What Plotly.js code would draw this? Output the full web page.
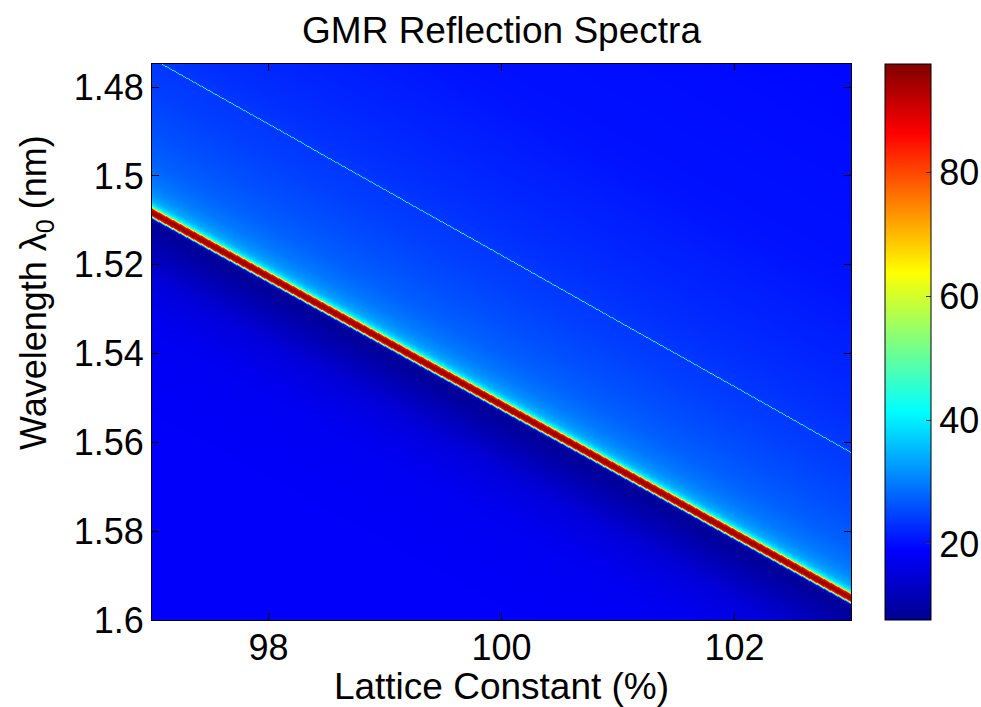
<!DOCTYPE html>
<html>
<head>
<meta charset="utf-8">
<script src="https://cdn.plot.ly/plotly-3.0.1.min.js"></script>
<style>html,body{margin:0;padding:0;background:#fff;}#chart{width:981px;height:707px;}</style>
</head>
<body>
<div id="chart"></div>
<script>
// Lattice constant (%) sample points read along the x axis
const latticeConstant = [97, 98, 99, 100, 101, 102, 103];
// Centre wavelength of the strong GMR resonance at each lattice constant
const mainResonance = [1.5084, 1.5228, 1.5372, 1.5516, 1.5660, 1.5805, 1.5950];
// Centre wavelength of the weak (narrow) resonance at each lattice constant
const secondResonance = [1.4737, 1.4884, 1.5032, 1.5179, 1.5327, 1.5474, 1.5622];
// Cross-section of the strong resonance: wavelength offset from its centre -> reflection (%)
const mainProfileOffset = [-0.12, -0.07, -0.045, -0.027, -0.018, -0.0113, -0.0068, -0.0045, -0.0029, -0.002, -0.0016, -0.0013, -0.0011, -0.0009, -0.0007, -0.0003, 0, 0.0003, 0.0006, 0.0008, 0.001, 0.0012, 0.0014, 0.0016, 0.00225, 0.0045, 0.009, 0.0156, 0.025, 0.045, 0.09];
const mainProfileValue  = [19.5, 20.5, 22.5, 24.5, 26, 27.5, 29.5, 31.5, 34, 38, 42, 50, 66, 82, 90, 95, 96, 94, 88, 75, 52, 32, 17, 10.5, 8.5, 9.5, 12, 15.5, 17.5, 18.5, 18.5];
// Cross-section of the weak resonance: offset -> added reflection (%)
const secondProfileOffset = [-0.00016, -0.00006, 0, 0.00006, 0.00016];
const secondProfileBoost  = [0, 15, 24, 15, 0];
// Axis ticks
const xTicks = [98, 100, 102];
const yTicks = [1.48, 1.5, 1.52, 1.54, 1.56, 1.58, 1.6];
const yTickText = ['1.48', '1.5', '1.52', '1.54', '1.56', '1.58', '1.6'];
const cbTicks = [20, 40, 60, 80];

function interp(xs, ys, v) {
  if (v <= xs[0]) return ys[0];
  const n = xs.length;
  if (v >= xs[n - 1]) return ys[n - 1];
  let i = 1;
  while (xs[i] < v) i++;
  const t = (v - xs[i - 1]) / (xs[i] - xs[i - 1]);
  return ys[i - 1] + t * (ys[i] - ys[i - 1]);
}

// Build the grid the heatmap needs from the read values
const xMin = latticeConstant[0], xMax = latticeConstant[latticeConstant.length - 1];
const yTop = 1.4748, yBottom = 1.6;
const nx = 601, ny = 558;
const gx = [], gy = [];
for (let i = 0; i < nx; i++) gx.push(xMin + (xMax - xMin) * i / (nx - 1));
for (let j = 0; j < ny; j++) gy.push(yTop + (yBottom - yTop) * j / (ny - 1));
const z = [];
for (let j = 0; j < ny; j++) {
  const row = new Array(nx);
  for (let i = 0; i < nx; i++) {
    const lm = interp(latticeConstant, mainResonance, gx[i]);
    const ls = interp(latticeConstant, secondResonance, gx[i]);
    row[i] = interp(mainProfileOffset, mainProfileValue, gy[j] - lm) +
             interp(secondProfileOffset, secondProfileBoost, gy[j] - ls);
  }
  z.push(row);
}

const jet = [
  [0, 'rgb(0,0,143)'], [0.125, 'rgb(0,0,255)'], [0.375, 'rgb(0,255,255)'],
  [0.625, 'rgb(255,255,0)'], [0.875, 'rgb(255,0,0)'], [1, 'rgb(128,0,0)']
];
const FONT = 'Liberation Sans, Arial, Helvetica, sans-serif';

const trace = {
  type: 'heatmap', x: gx, y: gy, z: z,
  colorscale: jet, zmin: 7.7, zmax: 97.6, zsmooth: false,
  hoverinfo: 'skip',
  colorbar: {
    thickness: 46, thicknessmode: 'pixels', len: 1, lenmode: 'fraction',
    x: 885 / 981, xref: 'container', xanchor: 'left', xpad: 0, ypad: 0,
    y: 0.5, yanchor: 'middle',
    outlinewidth: 1, outlinecolor: '#000',
    tickmode: 'array', tickvals: cbTicks, ticks: 'inside', ticklen: 5, tickcolor: '#333',
    tickfont: { family: FONT, size: 36, color: '#000' }
  }
};

const layout = {
  width: 981, height: 707,
  margin: { l: 152, r: 130, t: 64, b: 87 },
  paper_bgcolor: '#fff', plot_bgcolor: '#fff',
  font: { family: FONT, color: '#000' },
  title: { text: 'GMR Reflection Spectra', font: { family: FONT, size: 37, color: '#000' },
           x: 0.5, xref: 'paper', xanchor: 'center', y: 1 - 30 / 707, yref: 'container', yanchor: 'middle' },
  xaxis: {
    range: [xMin, xMax], tickmode: 'array', tickvals: xTicks,
    ticks: 'inside', ticklen: 7, tickcolor: '#000', showline: true, linecolor: '#000', linewidth: 1,
    mirror: 'ticks', showgrid: false, zeroline: false, ticklabelstandoff: -4,
    tickfont: { family: FONT, size: 36, color: '#000' },
    title: { text: 'Lattice Constant (%)', font: { family: FONT, size: 37, color: '#000' }, standoff: 6 }
  },
  yaxis: {
    range: [yBottom, yTop], tickmode: 'array', tickvals: yTicks, ticktext: yTickText,
    ticks: 'inside', ticklen: 7, tickcolor: '#000', showline: true, linecolor: '#000', linewidth: 1,
    mirror: 'ticks', showgrid: false, zeroline: false,
    tickfont: { family: FONT, size: 36, color: '#000' }
  },
  annotations: [{
    text: 'Wavelength λ<sub>0</sub> (nm)', textangle: -90, showarrow: false,
    xref: 'paper', yref: 'paper', x: (36 - 152) / 699, y: (620 - 292) / 556,
    xanchor: 'center', yanchor: 'middle',
    font: { family: FONT, size: 36, color: '#000' }
  }]
};

Plotly.newPlot('chart', [trace], layout, { staticPlot: true, displayModeBar: false });
</script>
</body>
</html>
